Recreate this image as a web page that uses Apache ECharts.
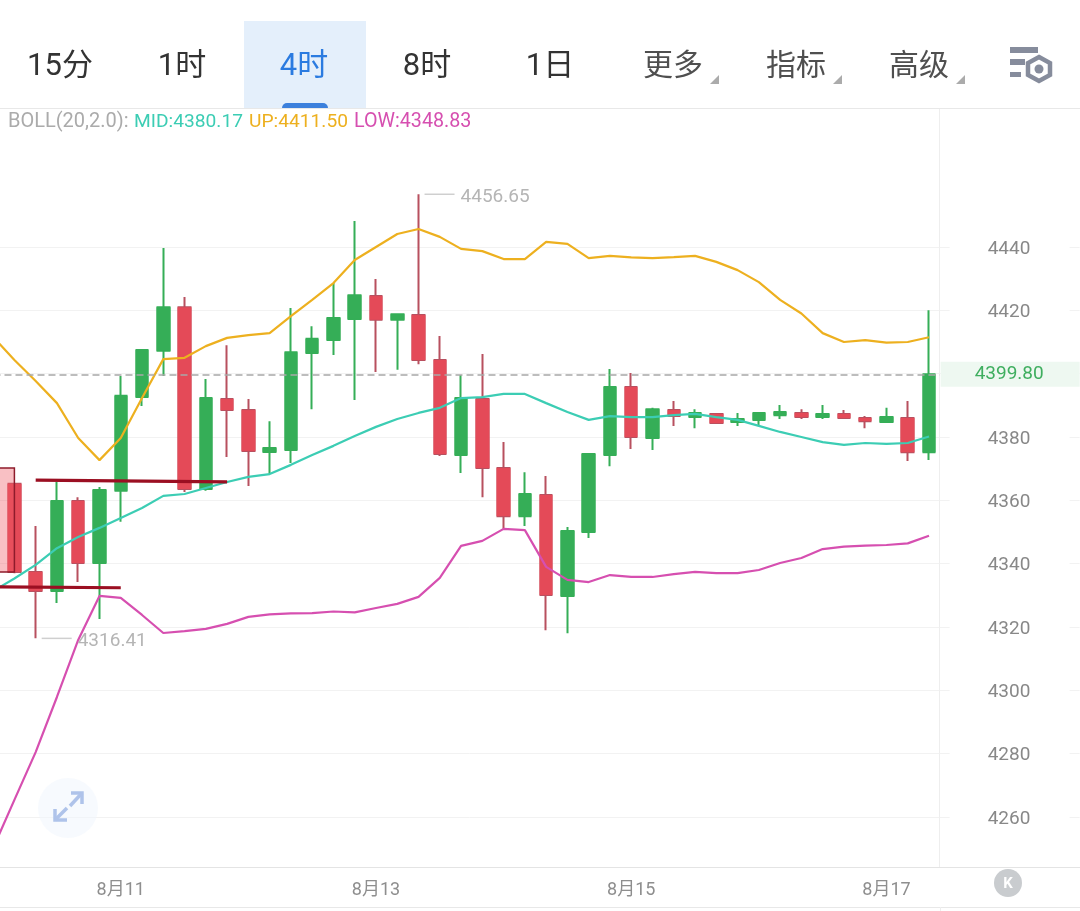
<!DOCTYPE html>
<html><head><meta charset="utf-8">
<style>html,body{margin:0;padding:0;background:#fff}#c{width:1080px;height:911px}</style>
<script src="https://cdn.jsdelivr.net/npm/echarts@6/dist/echarts.min.js"></script>
</head><body><div id="c"></div>
<script>
var tabs = ['15分','1时','4时','8时','1日','更多','指标','高级'];
var tickValues = [4260,4280,4300,4320,4340,4360,4380,4400,4420,4440];
var lastPrice = 4399.80;
var categories = ['8月10 00:00','8月10 04:00','8月10 08:00','8月10 12:00','8月10 16:00','8月10 20:00',
 '8月11 00:00','8月11 04:00','8月11 08:00','8月11 12:00','8月11 16:00','8月11 20:00',
 '8月12 00:00','8月12 04:00','8月12 08:00','8月12 12:00','8月12 16:00','8月12 20:00',
 '8月13 00:00','8月13 04:00','8月13 08:00','8月13 12:00','8月13 16:00','8月13 20:00',
 '8月14 00:00','8月14 04:00','8月14 08:00','8月14 12:00','8月14 16:00','8月14 20:00',
 '8月15 00:00','8月15 04:00','8月15 08:00','8月15 12:00','8月15 16:00','8月15 20:00',
 '8月16 00:00','8月16 04:00','8月16 08:00','8月16 12:00','8月16 16:00','8月16 20:00',
 '8月17 00:00','8月17 04:00','8月17 08:00'];
// [open, close, low, high]
var candles = [
 ['-','-','-','-'],
 [4365.2,4337.4,4337.0,4365.2],[4337.4,4331.4,4316.41,4351.9],[4331.4,4359.8,4327.6,4365.8],[4359.8,4340.2,4334.2,4361.0],
 [4340.2,4363.3,4322.5,4364.2],[4363.0,4393.0,4353.2,4399.3],[4392.6,4407.5,4389.8,4407.5],[4407.2,4421.0,4399.3,4439.7],
 [4421.0,4363.6,4362.6,4424.2],[4363.6,4392.3,4363.0,4398.3],[4392.0,4388.5,4373.7,4409.0],[4388.5,4375.6,4364.5,4392.0],
 [4375.3,4376.5,4368.3,4385.0],[4375.9,4406.8,4371.8,4420.7],[4406.5,4411.0,4388.8,4415.0],[4410.6,4417.6,4405.9,4428.6],
 [4417.3,4424.8,4391.7,4448.2],[4424.5,4417.0,4400.5,4429.9],[4417.0,4418.8,4401.2,4418.8],[4418.5,4404.3,4403.0,4456.65],
 [4404.3,4374.6,4374.0,4411.9],[4374.3,4392.3,4368.6,4399.6],[4392.0,4370.2,4361.0,4406.2],[4370.2,4355.0,4351.0,4378.4],
 [4355.0,4362.0,4351.9,4368.9],[4361.7,4330.1,4319.0,4367.7],[4329.8,4350.3,4318.0,4351.6],[4350.0,4374.6,4348.1,4374.6],
 [4374.3,4395.8,4370.8,4401.5],[4395.8,4380.0,4376.2,4400.2],[4379.7,4388.8,4375.9,4389.2],[4388.5,4386.6,4383.5,4391.4],
 [4386.3,4387.6,4382.8,4388.8],[4387.3,4384.4,4384.4,4387.6],[4384.7,4385.7,4383.5,4387.6],[4385.4,4387.6,4383.8,4387.6],
 [4386.9,4387.9,4385.7,4390.1],[4387.6,4386.3,4385.7,4388.8],[4386.3,4387.3,4385.7,4390.1],[4387.3,4386.0,4385.7,4388.5],
 [4386.0,4385.0,4382.8,4386.6],[4384.7,4386.3,4384.4,4389.2],[4386.0,4375.2,4372.4,4391.4],[4375.2,4399.8,4372.7,4420.0]
];
var bollUp = [4411.6,4404.3,4397.7,4390.7,4379.7,4372.7,4379.7,4392.3,4404.6,4405.0,4408.7,4411.3,4412.2,4412.8,4418.2,4423.3,4428.6,4435.9,4440.0,4444.1,4445.7,4443.2,4439.4,4438.7,4436.2,4436.2,4441.6,4441.0,4436.5,4437.2,4436.7,4436.5,4436.8,4437.2,4435.3,4432.7,4428.9,4423.3,4419.0,4412.8,4410.0,4410.6,4409.8,4410.0,4411.50];
var bollMid = [4331.4,4335.3,4339.6,4344.9,4348.4,4351.3,4354.4,4357.6,4361.4,4362.0,4363.9,4365.8,4367.4,4368.3,4371.2,4374.3,4377.2,4380.3,4383.2,4385.7,4387.6,4389.2,4392.3,4392.6,4393.6,4393.6,4390.7,4387.9,4385.4,4386.6,4386.3,4386.3,4386.9,4387.3,4386.3,4385.4,4383.5,4381.6,4380.0,4378.4,4377.5,4378.1,4377.8,4378.1,4380.17];
var bollLow = [4250.2,4265.4,4280.5,4297.9,4315.9,4329.8,4329.2,4323.8,4318.1,4318.7,4319.4,4321.0,4323.2,4324.0,4324.3,4324.4,4324.9,4324.6,4326.0,4327.3,4329.5,4335.5,4345.6,4347.2,4351.0,4350.6,4339.0,4334.9,4334.2,4336.4,4335.8,4335.8,4336.7,4337.4,4337.0,4337.0,4338.0,4340.2,4341.8,4344.6,4345.4,4345.7,4345.9,4346.4,4348.83];

var FONT = 'Roboto, "Noto Sans CJK SC", sans-serif';
var RED = '#E44A58', RED_WICK = '#B8505F', GREEN = '#35AE57', MID_COLOR = '#3CCDB4';
var bodies = candles.map(function (c) {
  return c[0] === '-' ? c : [c[0], c[1], Math.min(c[0], c[1]), Math.max(c[0], c[1])];
});

var tabCenters = [60,182,304,427,550,673,796,919];
var g = [];
function rect(x,y,w,h,fill,extra){ g.push({type:'rect',silent:true,shape:Object.assign({x:x,y:y,width:w,height:h},extra||{}),style:{fill:fill},z:50}); }
function poly(pts,stroke,w){ g.push({type:'polyline',silent:true,shape:{points:pts},style:{fill:null,stroke:stroke,lineWidth:w},z:52}); }

rect(244,21,122,87,'#E4EFFB');
rect(282,103,46,6,'#3C80DC',{r:[5,5,0,0]});
tabs.forEach(function (t,i) {
  g.push({type:'text',silent:true,z:52,style:{text:t,x:tabCenters[i],y:67,align:'center',verticalAlign:'middle',
    fontFamily:FONT,fontSize:i>=5?30:31,fill:i===2?'#2B7BE0':(i>=5?'#4F4F4F':'#333333')}});
});
[719,842,965].forEach(function (x) {
  g.push({type:'polygon',silent:true,z:52,shape:{points:[[x,75],[x,84],[x-9,84]]},style:{fill:'#ABABAB'}});
});
// settings icon
rect(1010,47,28,6,'#868C9C'); rect(1010,59,15,6,'#868C9C'); rect(1010,72,11,5,'#868C9C');
g.push({type:'polygon',silent:true,z:52,shape:{points:[[1039,57],[1050,63],[1050,75],[1039,81],[1028,75],[1028,63]]},style:{fill:'#fff',stroke:'#868C9C',lineWidth:4.5}});
g.push({type:'circle',silent:true,z:53,shape:{cx:1039,cy:69,r:4.5},style:{fill:'#868C9C'}});
// frame rules
rect(0,108,1080,1,'#E8E8E8');
rect(0,867,1080,1,'#E4E4E4');
rect(0,907,1080,1,'#E8E8E8');
rect(940,907,1,4,'#EEEEEE');
// BOLL legend
var leg = [['BOLL(20,2.0):',8,'#ABABAB',20],['MID:'+bollMid[44].toFixed(2),134,MID_COLOR,19.2],['UP:'+bollUp[44].toFixed(2),249,'#EDB01F',19.2],['LOW:'+bollLow[44].toFixed(2),354,'#D64FB0',19.7]];
leg.forEach(function (l) {
  g.push({type:'text',silent:true,z:52,style:{text:l[0],x:l[1],y:122,verticalAlign:'middle',fontFamily:FONT,fontSize:l[3],fill:l[2]}});
});
// fullscreen button
g.push({type:'circle',silent:true,z:51,shape:{cx:68,cy:808,r:30},style:{fill:'rgba(240,246,254,0.5)'}});
poly([[71,793],[82,793],[82,804]],'#AFC3EA',3.5); poly([[82,793],[70,806]],'#AFC3EA',3.5);
poly([[55,809],[55,820],[67,820]],'#AFC3EA',3.5); poly([[55,820],[67,808]],'#AFC3EA',3.5);
// K button
g.push({type:'circle',silent:true,z:51,shape:{cx:1008,cy:883,r:14},style:{fill:'#C9CCCF'}});
g.push({type:'text',silent:true,z:52,style:{text:'K',x:1008,y:884,align:'center',verticalAlign:'middle',fontFamily:FONT,fontWeight:'bold',fontSize:15,fill:'#fff'}});

function extreme(i, v) {
  return {coord:[i,v],symbol:'rect',symbolSize:[30,1.5],symbolOffset:[21,0],itemStyle:{color:'#CFCFCF'},
    label:{show:true,position:'right',distance:6,formatter:'{v|'+v.toFixed(2)+'}',
      rich:{v:{color:'#B5B5B5',fontSize:19,fontFamily:FONT,padding:[5,0,0,0]}}}};
}
function lineSeries(name,data,color){
  return {name:name,type:'line',data:data,symbol:'none',smooth:false,silent:true,clip:true,z:4,lineStyle:{color:color,width:2.2}};
}

var chart = echarts.init(document.getElementById('c'), null, {renderer:'canvas'});
var yBase = {type:'value',min:4244.21,max:4483.58,position:'right',scale:true};
chart.setOption({
  animation:false,
  backgroundColor:'#fff',
  graphic:g,
  grid:{left:-17.5,top:109,width:957.15,height:758,containLabel:false,outerBoundsMode:'none'},
  xAxis:{type:'category',data:categories,boundaryGap:true,
    axisLine:{show:false},axisTick:{show:false},splitLine:{show:false},
    axisLabel:{interval:function(i){return i%12===6;},formatter:function(v){return v.split(' ')[0];},
      color:'#8E8E8E',fontSize:18,fontFamily:FONT,margin:15,hideOverlap:false}},
  yAxis:[
    Object.assign({},yBase,{
      axisLine:{show:true,lineStyle:{color:'#EEEEEE',width:1}},
      axisTick:{show:true,length:10,customValues:tickValues,lineStyle:{color:'#F2F2F2'}},
      splitLine:{show:true,lineStyle:{color:'#F2F2F2',width:1}},
      axisLabel:{customValues:tickValues,margin:48,formatter:function(v){return '{t|'+v+'}';},
        rich:{t:{color:'#888888',fontSize:19,fontFamily:FONT,padding:[4,0,0,0]}}}
    }),
    Object.assign({},yBase,{offset:130,
      axisLine:{show:false},
      axisTick:{show:true,length:10,customValues:tickValues,lineStyle:{color:'#F2F2F2'}},
      splitLine:{show:false},axisLabel:{show:false}
    })
  ],
  series:[
    {name:'wick',type:'candlestick',data:candles,barWidth:12,z:2,silent:true,
      itemStyle:{color:GREEN,color0:RED_WICK,borderColor:GREEN,borderColor0:RED_WICK,borderColorDoji:GREEN,borderWidth:2},
      markPoint:{silent:true,data:[extreme(20,4456.65),extreme(2,4316.41)]}},
    {name:'body',type:'candlestick',data:bodies,barWidth:14,z:3,silent:true,
      itemStyle:{color:GREEN,color0:RED,borderColor:GREEN,borderColor0:RED,borderColorDoji:GREEN,borderWidth:0}},
    lineSeries('UP',bollUp,'#EDB01F'),
    lineSeries('MID',bollMid,MID_COLOR),
    lineSeries('LOW',bollLow,'#D64FB0'),
    {name:'notes',type:'line',data:[],silent:true,z:6,clip:false,
      markArea:{silent:true,z:6,itemStyle:{color:'rgba(240,90,100,0.38)',borderColor:'#8E1B2B',borderWidth:1.5},
        data:[[{coord:[0,4370.2]},{coord:[1,4337.4]}]]},
      markLine:{silent:true,symbol:'none',z:7,animation:false,
        lineStyle:{type:'solid',color:'#9B0F22',width:3.2},label:{show:false},
        data:[
          [{coord:[2,4366.4]},{coord:[11,4365.8]}],
          [{coord:[0,4332.7]},{coord:[6,4332.4]}],
          {yAxis:lastPrice,lineStyle:{type:[7,4],color:'#A8A8A8',width:1.5},
            label:{show:true,position:'end',distance:1,formatter:lastPrice.toFixed(2),color:'#3FAE5F',fontSize:19,fontFamily:FONT,
              backgroundColor:'#EEF8F1',width:105,height:21,lineHeight:21,padding:[4,0,0,34]}}
        ]}}
  ]
});
</script></body></html>
